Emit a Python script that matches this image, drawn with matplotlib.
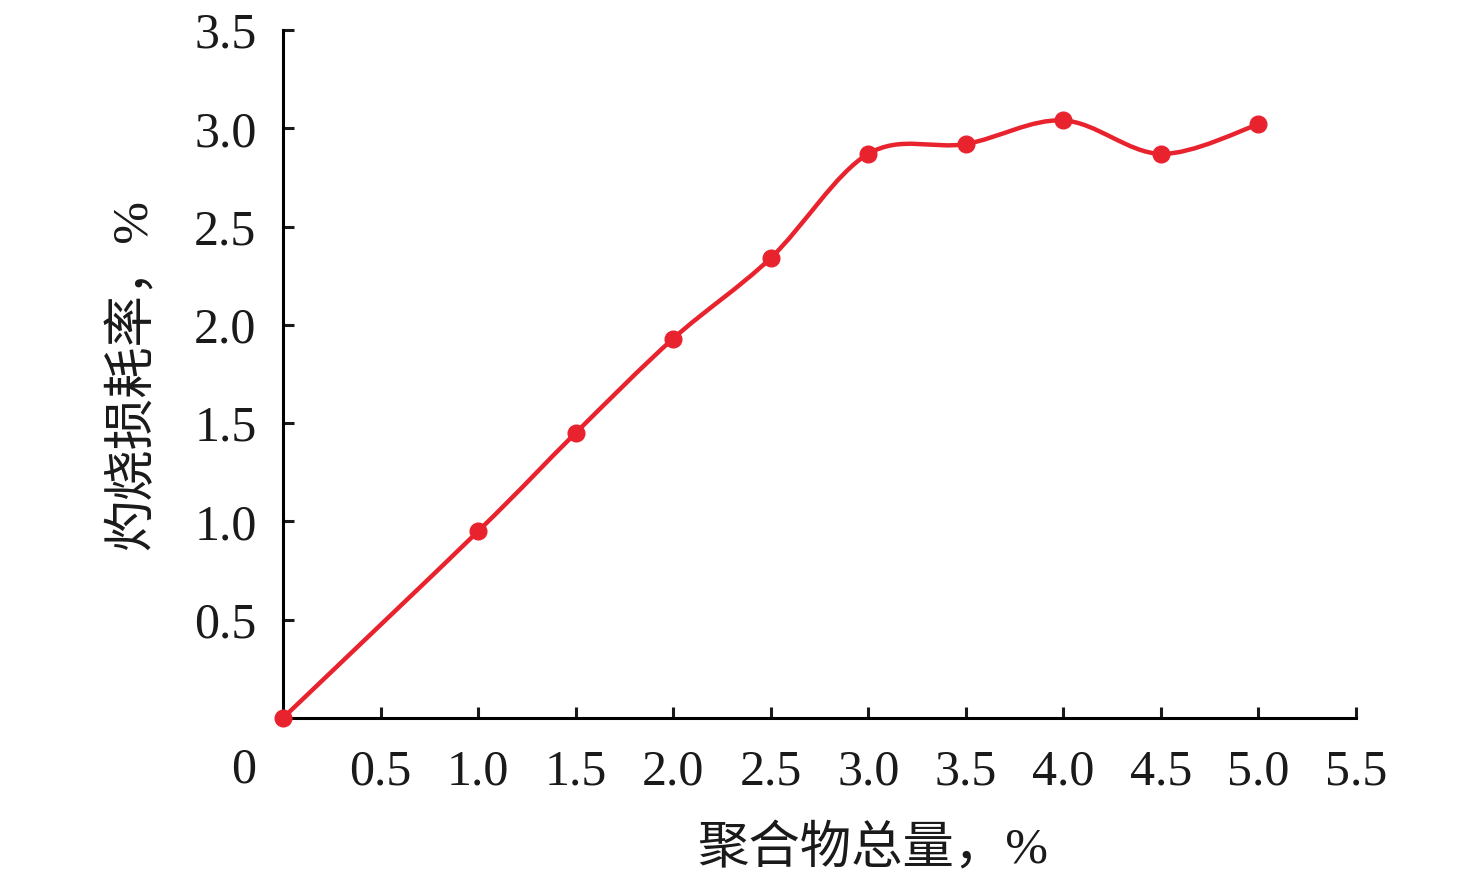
import matplotlib
matplotlib.use("Agg")
import matplotlib.pyplot as plt
from matplotlib.path import Path
from matplotlib.patches import PathPatch
import numpy as np

plt.rcParams['font.family'] = ['Liberation Serif', 'Noto Sans CJK SC']

# === 数据 ===
polymer_total = [0, 1.0, 1.5, 2.0, 2.5, 3.0, 3.5, 4.0, 4.5, 5.0]
burn_loss = [0, 0.95, 1.45, 1.93, 2.34, 2.87, 2.92, 3.04, 2.87, 3.02]
x_ticks = [0.5, 1.0, 1.5, 2.0, 2.5, 3.0, 3.5, 4.0, 4.5, 5.0, 5.5]
y_ticks = [0.5, 1.0, 1.5, 2.0, 2.5, 3.0, 3.5]

RED = '#e8232e'


def smooth_path(xs, ys):
    # Excel 风格平滑线：Catmull-Rom 段转三次 Bezier
    xs = np.asarray(xs, float)
    ys = np.asarray(ys, float)
    n = len(xs)
    verts = [(xs[0], ys[0])]
    codes = [Path.MOVETO]
    for i in range(n - 1):
        p0 = (xs[max(i - 1, 0)], ys[max(i - 1, 0)])
        p1 = (xs[i], ys[i])
        p2 = (xs[i + 1], ys[i + 1])
        p3 = (xs[min(i + 2, n - 1)], ys[min(i + 2, n - 1)])
        c1 = (p1[0] + (p2[0] - p0[0]) / 6, p1[1] + (p2[1] - p0[1]) / 6)
        c2 = (p2[0] - (p3[0] - p1[0]) / 6, p2[1] - (p3[1] - p1[1]) / 6)
        verts += [c1, c2, p2]
        codes += [Path.CURVE4] * 3
    return Path(verts, codes)


fig = plt.figure(figsize=(14.76, 8.82), dpi=100)
ax = fig.add_axes([283 / 1476, 1 - 718 / 882, (1356 - 283) / 1476, (718 - 30) / 882])

ax.add_patch(PathPatch(smooth_path(polymer_total, burn_loss), fill=False,
                       edgecolor=RED, linewidth=3.2, capstyle='round', zorder=3))
ax.plot(polymer_total, burn_loss, linestyle='none', marker='o', markersize=12,
        color=RED, clip_on=False, zorder=4)

ax.set_xlim(0, 5.5)
ax.set_ylim(0, 3.5)
ax.spines['top'].set_visible(False)
ax.spines['right'].set_visible(False)
for s in ['left', 'bottom']:
    ax.spines[s].set_linewidth(2.2)

ax.set_xticks(x_ticks)
ax.set_xticklabels([f'{v:.1f}' for v in x_ticks])
ax.set_yticks(y_ticks)
ax.set_yticklabels([f'{v:.1f}' for v in y_ticks])
ax.tick_params(direction='in', length=8, width=2.2, labelsize=36, colors='#1a1a1a')
ax.tick_params(axis='x', pad=22)
ax.tick_params(axis='y', pad=19)

# 原点的 "0"
ax.text(-0.2, -0.265, '0', fontsize=36, ha='center', va='center', color='#1a1a1a')

fig.text(873 / 1476, 1 - 850 / 882, '聚合物总量，%', fontsize=37,
         ha='center', va='center', color='#1a1a1a')
fig.text(133 / 1476, 1 - 375 / 882, '灼烧损耗率，%', fontsize=37, rotation=90,
         ha='center', va='center', color='#1a1a1a')

fig.savefig('out.png', dpi=100)
